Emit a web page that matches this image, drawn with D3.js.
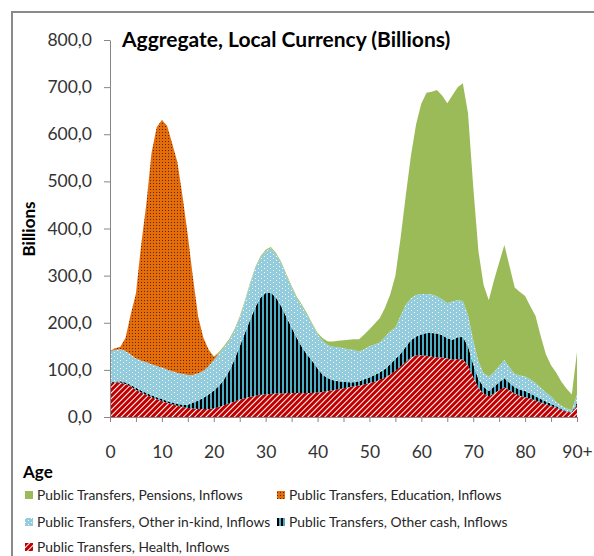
<!DOCTYPE html>
<html>
<head>
<meta charset="utf-8">
<script src="https://cdn.jsdelivr.net/npm/d3@7"></script>
<style>
  body { margin: 0; background: #fff; }
  svg { display: block; }
  text { font-family: Lato, "Open Sans", sans-serif; }
</style>
</head>
<body>
<svg id="chart" width="594" height="556"></svg>
<script>
(function () {
    "use strict";

    // ages on the x axis (90 = "90+")
    var ages = [0,1,2,3,4,5,6,7,8,9,10,11,12,13,14,15,16,17,18,19,20,21,22,23,24,25,26,27,28,29,
        30,31,32,33,34,35,36,37,38,39,40,41,42,43,44,45,46,47,48,49,50,51,52,53,54,55,56,57,58,59,
        60,61,62,63,64,65,66,67,68,69,70,71,72,73,74,75,76,77,78,79,80,81,82,83,84,85,86,87,88,89,90];

    // series values, billions
    var health = [71,73,73,70,65,58,52,47,42,38,34,30,27,24,21,19,18,17,17,17,
        18,21,25,29,33,37,40,43,45,47,48,49,50,50,51,51,51,51,51,51,
        52,53,55,57,59,61,63,65,67,69,72,75,79,84,90,98,107,117,126,131,
        131,130,128,127,126,124,122,123,122,110,85,62,50,44,50,57,63,57,50,45,
        42,39,35,31,27,23,20,15,11,9,26];
    var otherCash = [2,2,3,3,3,4,4,4,4,4,4,4,4,4,5,7,12,18,24,31,
        38,45,55,69,89,113,138,163,188,206,215,215,203,185,161,139,117,97,81,68,
        51,36,27,21,17,14,11,9,9,11,12,14,16,18,22,25,27,32,37,40,
        44,48,50,50,48,43,42,46,48,40,27,18,14,11,14,17,19,15,13,13,
        13,11,9,7,6,5,3,2,1,2,4];
    var otherInKind = [66,67,68,67,64,62,64,65,66,66,67,67,66,66,65,63,59,58,57,60,
        65,68,68,65,61,60,66,76,82,85,89,94,92,91,88,85,84,87,84,76,
        72,73,70,71,72,71,70,68,63,64,66,65,63,68,70,67,81,89,89,88,
        86,83,82,79,76,75,81,79,76,66,51,38,29,31,31,34,39,33,28,30,
        31,30,28,24,19,16,9,7,6,4,18];
    var education = [1,4,5,28,86,138,245,336,448,507,525,517,483,446,376,296,206,119,70,35,
        7,1,0,0,0,0,0,0,0,0,0,0,0,0,0,0,0,0,0,0,
        0,0,0,0,0,0,0,0,0,0,0,0,0,0,0,0,0,0,0,0,
        0,0,0,0,0,0,0,0,0,0,0,0,0,0,0,0,0,0,0,0,
        0,0,0,0,0,0,0,0,0,0,0];
    var pensions = [0,0,0,0,0,0,0,0,0,0,0,0,0,0,0,0,0,0,0,0,
        1,3,3,3,3,3,3,3,3,3,3,3,3,3,3,3,3,3,3,3,
        3,5,8,11,14,17,20,23,26,31,36,44,52,62,78,110,165,232,303,363,
        404,427,430,438,432,424,438,452,462,428,326,234,187,162,195,220,244,215,184,177,
        171,155,143,110,81,66,62,51,42,33,90];

    var yTicks = [0,100,200,300,400,500,600,700,800];
    var xTicks = [0,5,10,15,20,25,30,35,40,45,50,55,60,65,70,75,80,85,90];

    var seriesKeys = ["health","cash","inkind","education","pensions"];
    var legendItems = [
        { key: "pensions",  label: "Public Transfers, Pensions, Inflows" },
        { key: "education", label: "Public Transfers, Education, Inflows" },
        { key: "inkind",    label: "Public Transfers, Other in-kind, Inflows" },
        { key: "cash",      label: "Public Transfers, Other cash, Inflows" },
        { key: "health",    label: "Public Transfers, Health, Inflows" }
    ];

    // build the table d3.stack wants
    var table = ages.map(function (a, i) {
        return { age: a, health: health[i], cash: otherCash[i], inkind: otherInKind[i],
                 education: education[i], pensions: pensions[i] };
    });

    var svg = d3.select("#chart");
    var defs = svg.append("defs");

    // fill patterns, the way excel draws them
    var pEdu = defs.append("pattern").attr("id", "p-education")
        .attr("patternUnits", "userSpaceOnUse").attr("width", 3).attr("height", 3);
    pEdu.append("rect").attr("width", 3).attr("height", 3).attr("fill", "#E46C0A");
    pEdu.append("rect").attr("width", 1).attr("height", 1).attr("fill", "#5a2a00");

    var pKind = defs.append("pattern").attr("id", "p-inkind")
        .attr("patternUnits", "userSpaceOnUse").attr("width", 6).attr("height", 4);
    pKind.append("rect").attr("width", 6).attr("height", 4).attr("fill", "#93CDDD");
    pKind.append("rect").attr("width", 1).attr("height", 1).attr("fill", "#ffffff");
    pKind.append("rect").attr("x", 3).attr("y", 2).attr("width", 1).attr("height", 1).attr("fill", "#ffffff");

    var pCash = defs.append("pattern").attr("id", "p-cash")
        .attr("patternUnits", "userSpaceOnUse").attr("width", 4).attr("height", 4);
    pCash.append("rect").attr("width", 4).attr("height", 4).attr("fill", "#4BACC6");
    pCash.append("rect").attr("width", 2).attr("height", 4).attr("fill", "#000000");

    var pHealth = defs.append("pattern").attr("id", "p-health")
        .attr("patternUnits", "userSpaceOnUse").attr("width", 4).attr("height", 4)
        .attr("patternTransform", "rotate(45)");
    pHealth.append("rect").attr("width", 4).attr("height", 4).attr("fill", "#C00000");
    pHealth.append("rect").attr("width", 1).attr("height", 4).attr("fill", "#ffffff");

    var fills = {
        health: "url(#p-health)",
        cash: "url(#p-cash)",
        inkind: "url(#p-inkind)",
        education: "url(#p-education)",
        pensions: "#9BBB59"
    };

    // outer frame
    svg.append("path").attr("d", "M12,556V12H594")
        .attr("fill", "none").attr("stroke", "#8a8a8a").attr("stroke-width", 2);

    var x = d3.scaleLinear().domain([0, 90]).range([110, 577]);
    var y = d3.scaleLinear().domain([0, 800]).range([417, 40]);

    var stacked = d3.stack().keys(seriesKeys)(table);

    var area = d3.area()
        .x(function (d) { return x(d.data.age); })
        .y0(function (d) { return y(d[0]); })
        .y1(function (d) { return y(d[1]); });

    svg.append("g").selectAll("path")
        .data(stacked)
        .enter()
        .append("path")
        .attr("d", area)
        .attr("fill", function (d) { return fills[d.key]; });

    // axes
    var yAxis = d3.axisLeft(y).tickValues(yTicks).tickSize(6).tickSizeOuter(0).tickPadding(12)
        .tickFormat(function (d) { return d3.format(".1f")(d).replace(".", ","); });
    var gy = svg.append("g").attr("transform", "translate(110,0)").call(yAxis);

    var xAxis = d3.axisBottom(x).tickValues(xTicks).tickSize(5).tickSizeOuter(0).tickPadding(24)
        .tickFormat(function (d) { return d % 10 !== 0 ? "" : (d === 90 ? "90+" : d); });
    var gx = svg.append("g").attr("transform", "translate(0,417)").call(xAxis);

    [gx, gy].forEach(function (g) {
        g.selectAll("path, line").attr("stroke", "#868686");
        g.selectAll("text").attr("fill", "#333333").style("font-size", "17.5px")
            .style("font-family", "Lato, sans-serif");
    });

    // title and axis names
    svg.append("text").attr("x", 122).attr("y", 47)
        .style("font-size", "21px").style("font-weight", "bold").attr("fill", "#000")
        .text("Aggregate, Local Currency (Billions)");

    svg.append("text").attr("transform", "translate(35,229) rotate(-90)")
        .attr("text-anchor", "middle")
        .style("font-size", "17px").style("font-weight", "bold").attr("fill", "#000")
        .text("Billions");

    svg.append("text").attr("x", 23).attr("y", 478)
        .style("font-size", "17px").style("font-weight", "bold").attr("fill", "#000")
        .text("Age");

    // legend: two columns, three rows
    var colX = [25, 277];
    var rowY = [495, 522, 547];
    var leg = svg.append("g").selectAll("g")
        .data(legendItems)
        .enter()
        .append("g")
        .attr("transform", function (d, i) {
            return "translate(" + colX[i % 2] + "," + rowY[Math.floor(i / 2)] + ")";
        });
    leg.append("rect").attr("x", 0).attr("y", -4).attr("width", 8).attr("height", 8)
        .attr("fill", function (d) { return fills[d.key]; });
    leg.append("text").attr("x", 12).attr("dy", "0.35em")
        .style("font-size", "13.8px").attr("fill", "#262626")
        .text(function (d) { return d.label; });
})();
</script>
</body>
</html>
